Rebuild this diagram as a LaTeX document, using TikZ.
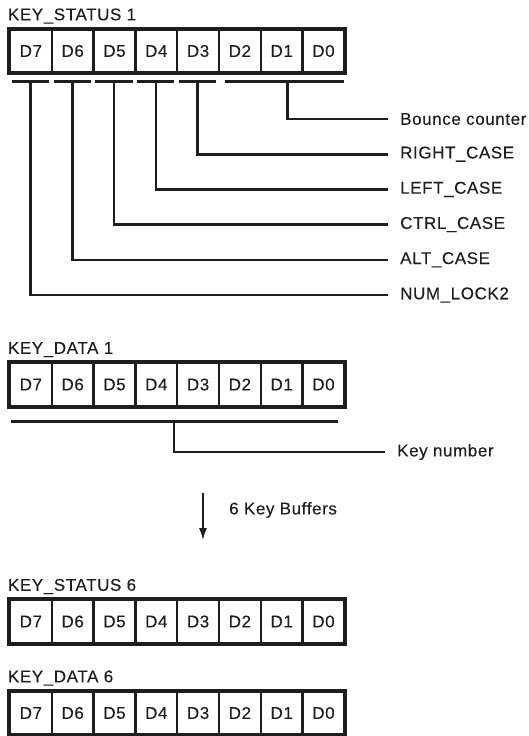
\documentclass[tikz,border=0pt]{standalone}
\usepackage{fontspec}
\setmainfont{Liberation Sans}[LetterSpace=3.5, FakeBold=0.2]
\usetikzlibrary{positioning,calc,arrows.meta}
\definecolor{RegInk}{HTML}{1E1E1E}

\begin{document}
\begin{tikzpicture}[x=1pt,y=-1pt,
		font=\fontsize{17}{20}\selectfont,
		bit/.style={draw=RegInk, line width=2.4pt, minimum width=41.8pt, minimum height=43pt, inner sep=0pt, text=RegInk},
		regname/.style={anchor=base west, inner sep=0pt, text=RegInk},
		bar/.style={RegInk, line width=2.8pt},
		lead/.style={RegInk, line width=2.6pt, shorten >=12pt},
		flag/.style={anchor=west, inner sep=0pt, text=RegInk}]
	\useasboundingbox (0,0) rectangle (529,736);
	
	% the four registers
	\foreach \reg/\yc/\name in {s1/51/KEY\_STATUS 1, d1/384.5/KEY\_DATA 1, s6/621.5/KEY\_STATUS 6, d6/713/KEY\_DATA 6} {
		\foreach \b in {0,...,7}
			\node[bit] (\reg-\b) at ({30.9+41.8*(7-\b)},\yc) {D\b};
		\draw[RegInk, line width=3pt] (\reg-7.north west) rectangle (\reg-0.south east);
		\node[regname] (\reg-name) at ($(\reg-7.north west)+(-1,-8)$) {\name};
	}
	
	% bit groups of KEY_STATUS 1
	\foreach \b in {7,...,3} {
		\draw[bar] ($(s1-\b.south west)+(3,8)$) coordinate (l\b) -- ($(s1-\b.south east)+(-4,8)$) coordinate (r\b);
		\coordinate (tap\b) at ($(l\b)!0.5!(r\b)$);
	}
	\draw[bar] ($(s1-2.south west)+(7,8)$) -- ($(s1-0.south east)+(-2,8)$);
	\coordinate (tap0) at ($(s1-1.south)+(6,8)$);
	
	\node[flag] (bounce) at (400,119) {Bounce counter};
	\node[flag] (right) at (400,154.2) {RIGHT\_CASE};
	\node[flag] (left) at (400,189.4) {LEFT\_CASE};
	\node[flag] (ctrl) at (400,224.6) {CTRL\_CASE};
	\node[flag] (alt) at (400,259.8) {ALT\_CASE};
	\node[flag] (numlock) at (400,295) {NUM\_LOCK2};
	
	\draw[lead] (tap0) |- (bounce);
	\draw[lead] (tap3) |- (right);
	\draw[lead] (tap4) |- (left);
	\draw[lead] (tap5) |- (ctrl);
	\draw[lead] (tap6) |- (alt);
	\draw[lead] (tap7) |- (numlock);
	
	% KEY_DATA 1
	\draw[bar] ($(d1-7.south west)+(2,14)$) -- ($(d1-0.south east)+(-8,14)$);
	\coordinate (tapkey) at ($(d1-3.south west)+(-2,14)$);
	\node[flag] (keynum) at (397,452) {Key number};
	\draw[lead] (tapkey) |- (keynum);
	
	% buffers
	\coordinate (bufTop) at (203,493);
	\coordinate (bufBot) at (203,540);
	\draw[RegInk, line width=1.5pt, -{Latex[length=12pt,width=8pt]}] (bufTop) -- (bufBot);
	\node[flag] (buffers) at (229,510) {6 Key Buffers};
\end{tikzpicture}
\end{document}
